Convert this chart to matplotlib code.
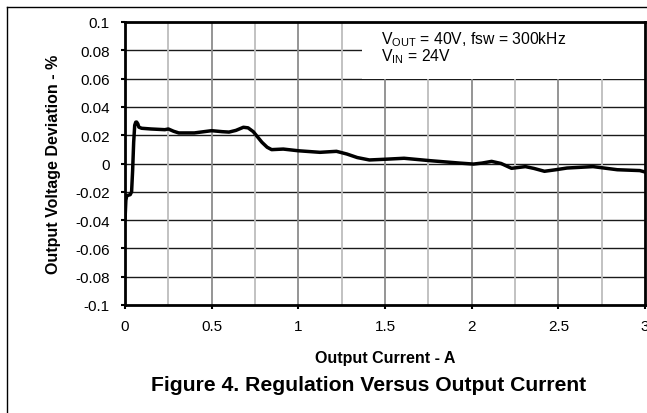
import matplotlib
matplotlib.use("Agg")
import matplotlib.pyplot as plt
from matplotlib.patches import Rectangle
from matplotlib.lines import Line2D

plt.rcParams['font.family'] = ['Liberation Sans', 'DejaVu Sans']
plt.rcParams['mathtext.fontset'] = 'custom'
plt.rcParams['mathtext.rm'] = 'Liberation Sans'
plt.rcParams['mathtext.it'] = 'Liberation Sans:italic'

# output current (A) and voltage deviation (%)
current = [0.0, 0.005, 0.01, 0.03, 0.038, 0.044, 0.05, 0.056, 0.062, 0.067, 0.074, 0.08, 0.096,
           0.15, 0.23, 0.25, 0.28, 0.31, 0.40, 0.50, 0.56, 0.60, 0.64, 0.683, 0.71, 0.74,
           0.79, 0.82, 0.846, 0.913, 1.0, 1.125, 1.22, 1.28, 1.34, 1.41, 1.5, 1.61, 1.76,
           1.93, 2.01, 2.06, 2.115, 2.17, 2.23, 2.31, 2.36, 2.42, 2.48, 2.55, 2.70, 2.84,
           2.97, 3.0]
deviation = [-0.040, -0.026, -0.0228, -0.022, -0.020, -0.005, 0.015, 0.027, 0.0292, 0.0293, 0.028,
             0.0257, 0.0249, 0.0244, 0.0239, 0.0244, 0.0228, 0.0216, 0.0216, 0.0232, 0.0225,
             0.0222, 0.0234, 0.0256, 0.0252, 0.0225, 0.0150, 0.0115, 0.0098, 0.0102, 0.009,
             0.0079, 0.0086, 0.0067, 0.0042, 0.0025, 0.003, 0.0037, 0.002, 0.0003, -0.0004,
             0.0003, 0.0015, 0.0, -0.0034, -0.0022, -0.0035, -0.0055, -0.0045, -0.0032, -0.0022,
             -0.0044, -0.005, -0.006]

xticks = [0, 0.5, 1, 1.5, 2, 2.5, 3]
xtick_labels = ['0', '0.5', '1', '1.5', '2', '2.5', '3']
minor_x = [0.25, 0.75, 1.25, 1.75, 2.25, 2.75]
yticks = [-0.1, -0.08, -0.06, -0.04, -0.02, 0, 0.02, 0.04, 0.06, 0.08, 0.1]
ytick_labels = ['-0.1', '-0.08', '-0.06', '-0.04', '-0.02', '0', '0.02', '0.04', '0.06', '0.08', '0.1']

fig = plt.figure(figsize=(6.47, 4.14), dpi=100)
ax = fig.add_axes([125 / 647, 1 - 306 / 414, 520 / 647, 283 / 414])

ax.set_xlim(0, 3)
ax.set_ylim(-0.1, 0.1)
ax.set_xticks(xticks)
ax.set_xticklabels(xtick_labels)
ax.set_yticks(yticks)
ax.set_yticklabels(ytick_labels)

# grid
for yv in yticks[1:-1]:
    ax.axhline(yv, color='#1a1a1a', lw=1.0, zorder=1)
for xv in xticks[1:-1]:
    ax.axvline(xv, color='#8c8c8c', lw=1.3, zorder=1)
for xv in minor_x:
    ax.axvline(xv, color='#bdbdbd', lw=1.3, zorder=1)

# white box behind the condition note
ax.add_patch(Rectangle((1.37, 0.06), 1.63, 0.04, facecolor='white', edgecolor='none', zorder=2))
ax.text(1.475, 0.0945, r'V$_{\mathrm{OUT}}$ = 40V, fsw = 300kHz', fontsize=11.3, va='top', zorder=3)
ax.text(1.475, 0.0825, r'V$_{\mathrm{IN}}$ = 24V', fontsize=11.3, va='top', zorder=3)

ax.plot(current, deviation, color='black', lw=2.5, zorder=4, solid_capstyle='round',
        solid_joinstyle='round')

for s in ax.spines.values():
    s.set_linewidth(2.0)
    s.set_zorder(5)

ax.tick_params(axis='both', which='major', direction='out', length=3, width=1.5, labelsize=11)
ax.tick_params(axis='y', pad=8)
ax.tick_params(axis='x', pad=7)

ax.set_xlabel('Output Current - A', fontsize=11.5, fontweight='bold', labelpad=12)
ax.set_ylabel('Output Voltage Deviation - %', fontsize=11.5, fontweight='bold', labelpad=10)

fig.text(369 / 647, 1 - 386 / 414, 'Figure 4. Regulation Versus Output Current',
         fontsize=15.2, fontweight='bold', ha='center', va='center')

# outer frame lines
fig.add_artist(Line2D([7 / 647, 1.0], [1 - 8 / 414, 1 - 8 / 414], color='black', lw=1.0))
fig.add_artist(Line2D([7 / 647, 7 / 647], [1 - 8 / 414, 0.0], color='black', lw=1.0))

fig.savefig('out.png', dpi=100)
